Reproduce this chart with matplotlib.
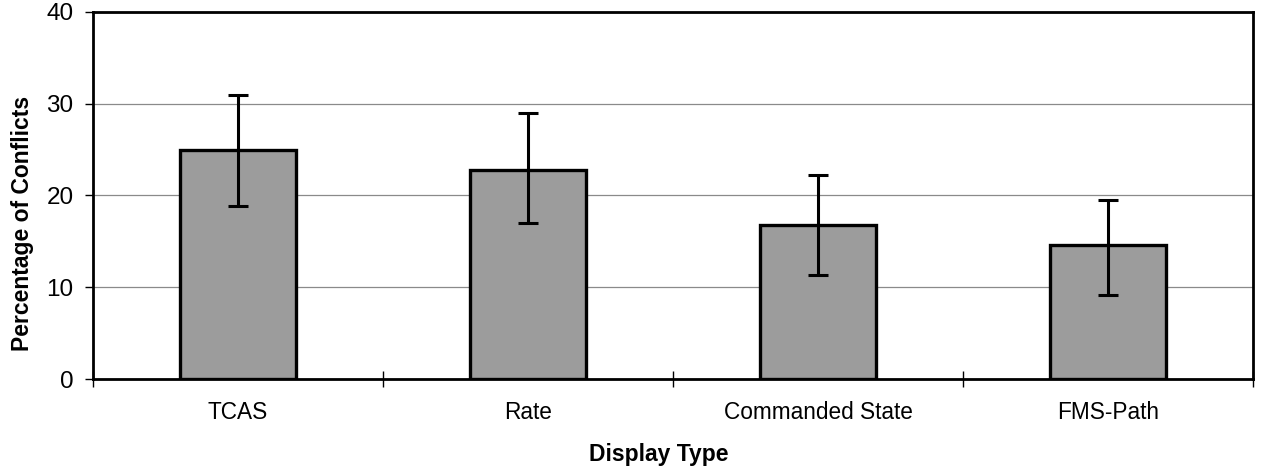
import matplotlib.pyplot as plt
import numpy as np

plt.rcParams['font.family'] = ['Liberation Sans', 'DejaVu Sans']

categories = ['TCAS', 'Rate', 'Commanded State', 'FMS-Path']
values = [25.0, 22.8, 16.8, 14.6]
err_low = [6.2, 5.8, 5.5, 5.4]
err_high = [6.0, 6.2, 5.4, 4.9]

fig = plt.figure(figsize=(12.61, 4.67), dpi=100)
ax = fig.add_axes([0.0737, 0.1884, 0.92, 0.786])

x = np.arange(len(categories))
ax.bar(x, values, width=0.40, color='#9c9c9c', edgecolor='black', linewidth=2.4,
       zorder=3)
ax.errorbar(x, values, yerr=[err_low, err_high], fmt='none', ecolor='black',
            elinewidth=2.2, capsize=7, capthick=2.2, zorder=4)

ax.set_xlim(-0.5, len(categories) - 0.5)
ax.set_ylim(0, 40)
ax.set_yticks([0, 10, 20, 30, 40])
ax.yaxis.grid(True, color='#8a8a8a', linewidth=0.9, zorder=0)

# category labels between boundary ticks, Excel style
ax.set_xticks(np.arange(-0.5, len(categories)), minor=False)
ax.set_xticklabels([])
ax.set_xticks(x, minor=True)
ax.set_xticklabels(categories, minor=True, fontsize=16.3)
ax.tick_params(axis='x', which='major', direction='inout', length=12, width=1)
ax.tick_params(axis='x', which='minor', length=0, pad=16)
ax.tick_params(axis='y', direction='out', length=6, width=1, labelsize=17.5, pad=8)

for s in ax.spines.values():
    s.set_linewidth(2)

ax.set_xlabel('Display Type', fontsize=16.5, fontweight='bold')
ax.set_ylabel('Percentage of Conflicts', fontsize=16.5, fontweight='bold')
ax.xaxis.set_label_coords(0.488, -0.175)
ax.yaxis.set_label_coords(-0.0505, 0.425)

fig.savefig('out.png', dpi=100)
